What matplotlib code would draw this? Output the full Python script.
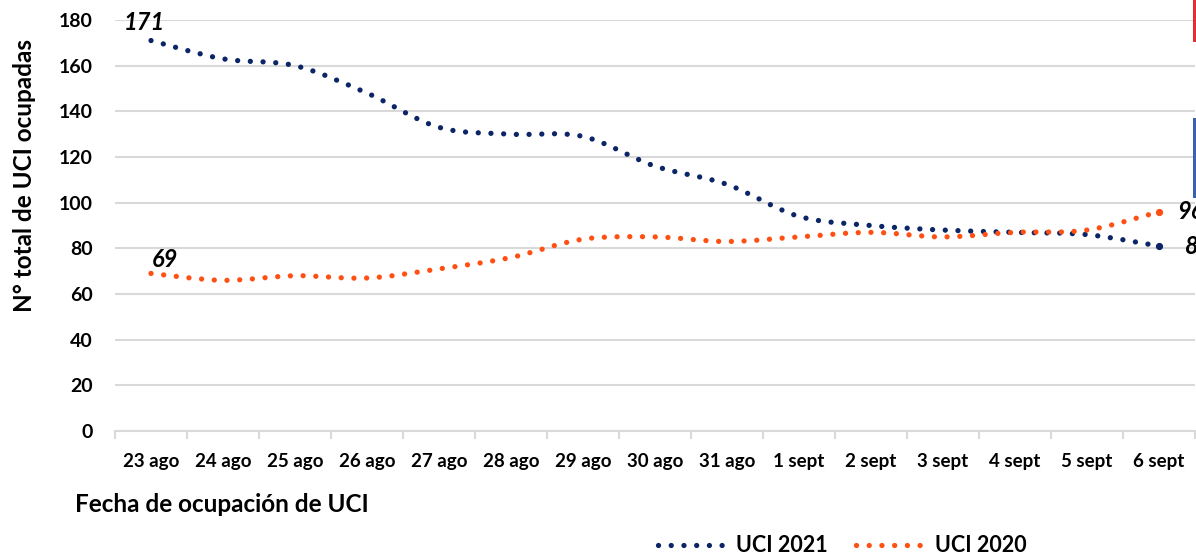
import numpy as np
import matplotlib.pyplot as plt
from matplotlib.path import Path
from matplotlib.patches import PathPatch, Rectangle
from matplotlib.lines import Line2D

# fechas y camas UCI ocupadas
fechas = ["23 ago", "24 ago", "25 ago", "26 ago", "27 ago", "28 ago", "29 ago",
          "30 ago", "31 ago", "1 sept", "2 sept", "3 sept", "4 sept", "5 sept", "6 sept"]
uci_2021 = [171, 163, 160, 148, 133, 130, 129, 116, 108, 94, 90, 88, 87, 86, 81]
uci_2020 = [69, 66, 68, 67, 71, 76, 84, 85, 83, 85, 87, 85, 87, 88, 96]

azul = "#0B2566"
naranja = "#FF5014"
gris = "#D9D9D9"

plt.rcParams["font.family"] = ["Lato", "DejaVu Sans"]
plt.rcParams["font.weight"] = "bold"


def curva_suave(xs, ys):
    # linea suavizada al estilo Excel (bezier cubica)
    pts = np.column_stack([xs, ys]).astype(float)
    n = len(pts)
    verts = [pts[0]]
    codes = [Path.MOVETO]
    for i in range(n - 1):
        p0 = pts[max(i - 1, 0)]
        p1 = pts[i]
        p2 = pts[i + 1]
        p3 = pts[min(i + 2, n - 1)]
        c1 = p1 + (p2 - p0) / 6
        c2 = p2 - (p3 - p1) / 6
        verts += [c1, c2, p2]
        codes += [Path.CURVE4] * 3
    return Path(verts, codes)


W, H = 1196, 556
fig = plt.figure(figsize=(W / 100, H / 100), dpi=100)
ax = fig.add_axes([115 / W, 1 - 431 / H, (1195 - 115) / W, (431 - 20) / H])

x = np.arange(len(fechas))
estilo = dict(linewidth=3.8, linestyle=(0, (0.01, 2.4)), capstyle="round",
              fill=False, clip_on=False)
ax.add_patch(PathPatch(curva_suave(x, uci_2021), edgecolor=azul, **estilo))
ax.add_patch(PathPatch(curva_suave(x, uci_2020), edgecolor=naranja, **estilo))
# punto final de cada serie
ax.plot(x[-1], uci_2021[-1], "o", color=azul, markersize=4.2, clip_on=False)
ax.plot(x[-1], uci_2020[-1], "o", color=naranja, markersize=4.2, clip_on=False)

ax.set_xlim(-0.5, len(fechas) - 0.5)
ax.set_ylim(0, 180)
ax.set_yticks(range(0, 181, 20))
ax.yaxis.grid(True, color=gris, linewidth=1.5)
ax.set_axisbelow(True)
for s in ["top", "right", "left"]:
    ax.spines[s].set_visible(False)
ax.spines["bottom"].set_color(gris)
ax.spines["bottom"].set_linewidth(1.5)

ax.set_xticks(x)
ax.set_xticklabels(fechas, fontsize=13.5, fontweight="bold")
ax.set_xticks(np.arange(-0.5, len(fechas), 1), minor=True)
ax.tick_params(axis="x", which="major", length=0, pad=16)
ax.tick_params(axis="x", which="minor", length=6, width=1.5, color=gris)
ax.tick_params(axis="y", length=0, pad=16, labelsize=14)
for t in ax.get_yticklabels():
    t.set_fontweight("bold")

# etiquetas de datos
rotulo = dict(textcoords="offset points", fontsize=17, fontweight="bold",
              fontstyle="italic", annotation_clip=False)
ax.annotate(str(uci_2021[0]), (x[0], uci_2021[0]), xytext=(-5, 5),
            ha="center", va="bottom", **rotulo)
ax.annotate(str(uci_2020[0]), (x[0], uci_2020[0]), xytext=(10, 2),
            ha="center", va="bottom", **rotulo)
ax.annotate(str(uci_2020[-1]), (x[-1], uci_2020[-1]), xytext=(13, 0),
            ha="left", va="center", **rotulo)
ax.annotate(str(uci_2021[-1]), (x[-1], uci_2021[-1]), xytext=(19, 0),
            ha="left", va="center", **rotulo)

fig.text(25 / W, 1 - 176 / H, "N° total de UCI ocupadas", rotation=90,
         ha="center", va="center", fontsize=17.5, fontweight="bold")
fig.text(75 / W, 1 - 505 / H, "Fecha de ocupación de UCI", ha="left",
         va="center", fontsize=17.5, fontweight="bold")

# trozos de otros elementos en el borde derecho
fig.add_artist(Rectangle((1193 / W, 1 - 42 / H), 3 / W, 42 / H,
                         transform=fig.transFigure, color="#E03030", lw=0))
fig.add_artist(Rectangle((1193 / W, 1 - 198 / H), 3 / W, 80 / H,
                         transform=fig.transFigure, color="#3A62B0", lw=0))

handles = [Line2D([], [], color=azul, linewidth=3.8, linestyle=(0, (0.01, 2.4)),
                  dash_capstyle="round"),
           Line2D([], [], color=naranja, linewidth=3.8, linestyle=(0, (0.01, 2.4)),
                  dash_capstyle="round")]
fig.legend(handles, ["UCI 2021", "UCI 2020"], loc="center",
           bbox_to_anchor=(842 / W, 1 - 546 / H), ncol=2, frameon=False,
           handlelength=3.3, handletextpad=0.35, columnspacing=1.3,
           prop={"size": 15.5, "weight": "bold"})

fig.savefig("out.png", dpi=100)
